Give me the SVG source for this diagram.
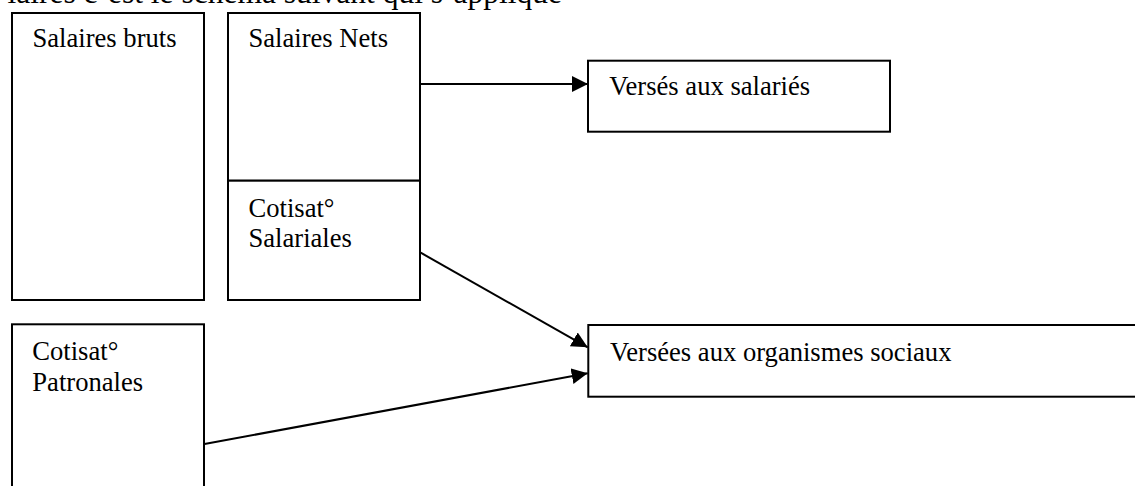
<svg xmlns="http://www.w3.org/2000/svg" width="1135" height="486" viewBox="0 0 1135 486">
<style>
  .box { fill: #fff; stroke: #000; stroke-width: 2; }
  .t { font-family: "Liberation Serif", "Times New Roman", serif; font-size: 26.6px; fill: #000; }
  .head { font-family: "Liberation Serif", "Times New Roman", serif; font-size: 31.5px; fill: #000; }
  .conn { stroke: #000; stroke-width: 2; fill: none; marker-end: url(#arr); }
</style>
<defs>
  <marker id="arr" markerUnits="userSpaceOnUse" markerWidth="18" markerHeight="18" refX="16" refY="8" orient="auto">
    <path d="M0,0 L16,8 L0,16 Z" fill="#000"/>
  </marker>
</defs>
<rect width="1135" height="486" fill="#fff"/>
<text class="head" x="562" y="3" text-anchor="end">laires c’est le schéma suivant qui s’applique</text>

<g id="salaires-bruts">
  <rect class="box" x="12" y="13" width="192" height="287"/>
  <text class="t" x="32.5" y="47">Salaires bruts</text>
</g>
<g id="salaires-nets">
  <rect class="box" x="228" y="13" width="192" height="167.7"/>
  <text class="t" x="248.5" y="47">Salaires Nets</text>
</g>
<g id="cotisat-salariales">
  <rect class="box" x="228" y="180.7" width="192" height="119.3"/>
  <text class="t" x="248.5" y="216.7">Cotisat°</text>
  <text class="t" x="248.5" y="246.7">Salariales</text>
</g>
<g id="cotisat-patronales">
  <rect class="box" x="12" y="324.3" width="192" height="180"/>
  <text class="t" x="32.3" y="360">Cotisat°</text>
  <text class="t" x="32.3" y="390.7">Patronales</text>
</g>
<g id="verses-salaries">
  <rect class="box" x="588" y="60.7" width="302" height="71"/>
  <text class="t" x="609.3" y="95">Versés aux salariés</text>
</g>
<g id="verses-organismes">
  <rect class="box" x="588.3" y="325" width="560" height="71.7"/>
  <text class="t" x="610" y="360.7">Versées aux organismes sociaux</text>
</g>

<g id="connectors">
  <line class="conn" x1="420" y1="84" x2="588" y2="84"/>
  <line class="conn" x1="420.7" y1="252.7" x2="587.7" y2="347.3"/>
  <line class="conn" x1="204.5" y1="444" x2="587.7" y2="373.3"/>
</g>
</svg>
